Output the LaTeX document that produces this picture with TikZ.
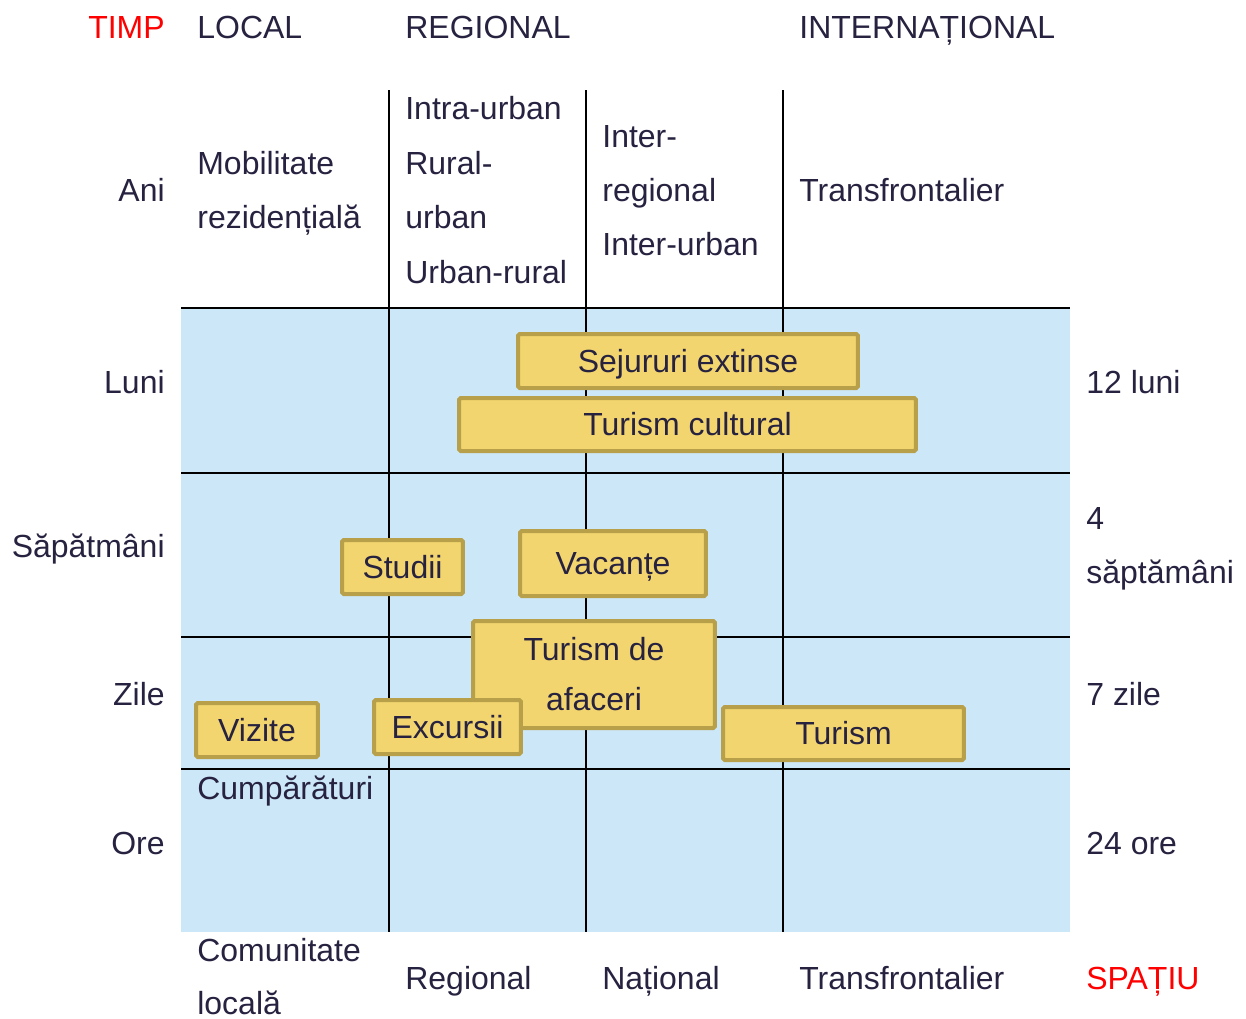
\documentclass[tikz,border=0pt]{standalone}
\usepackage{fontspec}
\setmainfont{Liberation Sans}

\definecolor{ink}{RGB}{38,34,64}
\definecolor{sky}{RGB}{204,232,248}
\definecolor{boxfill}{RGB}{242,213,110}
\definecolor{boxedge}{RGB}{184,160,74}
\definecolor{hired}{RGB}{255,0,0}

\tikzset{
  txt/.style={inner sep=0pt, text=ink, anchor=base west},
  rtxt/.style={txt, anchor=base east},
  head/.style={txt, text=hired},
  evbox/.style={draw=boxedge, fill=boxfill, line width=0.08cm, rounded corners=1pt,
                inner sep=0pt, text=ink, text height=13pt, text depth=0pt},
}

\begin{document}
\begin{tikzpicture}[x=0.02cm, y=-0.02cm, font=\fontsize{18.2}{28.45}\selectfont]
            \useasboundingbox (0,0) rectangle (1246,1018);

            % grid
            \fill[sky] (181,308) rectangle (1070,932);
            \path[draw, line width=0.04cm] (181,308) -- (1070,308)
                        (181,473) -- (1070,473)
                        (181,637) -- (1070,637)
                        (181,769) -- (1070,769)
                        (389,90) -- (389,932)
                        (586,90) -- (586,932)
                        (783,90) -- (783,932);

            % headings
            \node[head, anchor=base east] (timp) at (165,38) {TIMP};
            \node[txt] (local) at (197,38) {LOCAL};
            \node[txt] (regional) at (405,38) {REGIONAL};
            \node[txt] (internat) at (799,38) {INTERNAȚIONAL};

            % time axis
            \node[rtxt] (ani) at (165,201) {Ani};
            \node[rtxt] (luni) at (165,393) {Luni};
            \node[rtxt] (sapt) at (165,557) {Săpătmâni};
            \node[rtxt] (zile) at (165,705) {Zile};
            \node[rtxt] (ore) at (165,854) {Ore};

            \node[txt] (luni12) at (1086,393) {12 luni};
            \node[txt] (sapt4) at (1086,529) {4};
            \node[txt] (sapt4b) at (1086,583) {săptămâni};
            \node[txt] (zile7) at (1086,705) {7 zile};
            \node[txt] (ore24) at (1086,854) {24 ore};

            % top row
            \node[txt] (mob1) at (197,174) {Mobilitate};
            \node[txt] (mob2) at (197,228) {rezidențială};
            \node[txt] (intra) at (405,119) {Intra-urban};
            \node[txt] (rural1) at (405,174) {Rural-};
            \node[txt] (rural2) at (405,228) {urban};
            \node[txt] (urbrur) at (405,283) {Urban-rural};
            \node[txt] (inter1) at (602,147) {Inter-};
            \node[txt] (inter2) at (602,201) {regional};
            \node[txt] (interurb) at (602,255) {Inter-urban};
            \node[txt] (transtop) at (799,201) {Transfrontalier};

            \node[txt] (cumpar) at (197,799) {Cumpărături};

            % space axis
            \node[txt] (comun1) at (197,961) {Comunitate};
            \node[txt] (comun2) at (197,1014) {locală};
            \node[txt] (reg) at (405,989) {Regional};
            \node[txt] (nat) at (602,989) {Național};
            \node[txt] (trans) at (799,989) {Transfrontalier};
            \node[head] (spatiu) at (1086,989) {SPAȚIU};

            % activities
            \node[evbox, minimum width=6.8cm, minimum height=1.08cm] (sejur) at (688,361) {Sejururi extinse};
            \node[evbox, minimum width=9.14cm, minimum height=1.06cm] (cultural) at (687.5,424.5) {Turism cultural};
            \node[evbox, minimum width=2.42cm, minimum height=1.08cm] (studii) at (402.5,567) {Studii};
            \node[evbox, minimum width=3.72cm, minimum height=1.3cm] (vacante) at (613,563.5) {Vacanțe};
            \node[evbox, text height=, text depth=, align=center, minimum width=4.84cm, minimum height=2.14cm] (afaceri) at (594,674.5) {Turism de\\afaceri};
            \node[evbox, minimum width=2.94cm, minimum height=1.08cm] (excursii) at (447.5,727) {Excursii};
            \node[evbox, minimum width=2.44cm, minimum height=1.08cm] (vizite) at (257,730) {Vizite};
            \node[evbox, minimum width=4.82cm, minimum height=1.06cm] (turism) at (843.5,733.5) {Turism};
        \end{tikzpicture}
\end{document}
